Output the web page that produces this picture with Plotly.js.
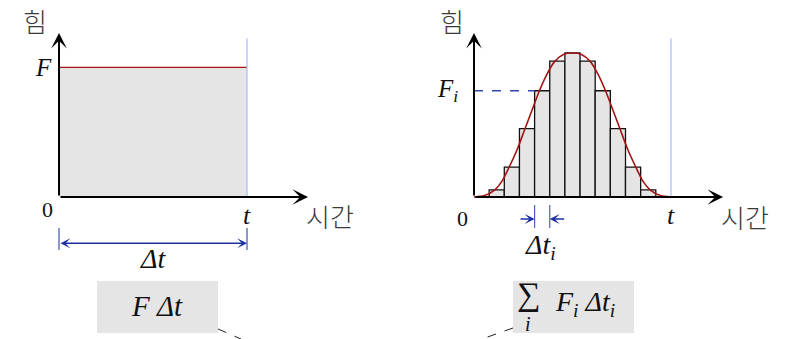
<!DOCTYPE html>
<html>
<head>
<meta charset="utf-8">
<script src="https://cdn.plot.ly/plotly-3.0.1.min.js"></script>
<style>html,body{margin:0;padding:0;background:#fff;}#chart{width:785px;height:339px;}</style>
</head>
<body>
<div id="chart"></div>
<script>
// ---------- data ----------
// Left panel: constant force F over time interval [0, t]
const LEFT_T = 13;
const LEFT_F = 9;
const LEFT_X = [0, LEFT_T];
const LEFT_Y = [LEFT_F, LEFT_F];

// Right panel: variable force approximated by bars of width Δt_i
const BAR_X = [1.5, 2.5, 3.5, 4.5, 5.5, 6.5, 7.5, 8.5, 9.5, 10.5, 11.5];
const BAR_F = [0.5, 2.08, 4.75, 7.38, 9.44, 10, 9.44, 7.38, 4.75, 2.08, 0.5];
const BAR_WIDTH = 1;
const RIGHT_T = 13;
const FI_INDEX = 3;           // the highlighted bar F_i
const CURVE_X = [0, 0.7, 1.38, 1.85, 2.32, 2.85, 3.36, 3.8, 4.3, 4.8, 5.33, 5.9, 6.5,
                 7.1, 7.67, 8.2, 8.7, 9.2, 9.64, 10.15, 10.68, 11.15, 11.62, 12.3, 13];
const CURVE_Y = [0, 0.1, 0.5, 1.1, 2.08, 3.3, 4.72, 5.95, 7.33, 8.5, 9.42, 9.9, 10,
                 9.9, 9.42, 8.5, 7.33, 5.95, 4.72, 3.3, 2.08, 1.1, 0.5, 0.1, 0];

// Labels
const Y_LABEL = '힘';
const X_LABEL = '시간';

// ---------- styling ----------
const W = 785, H = 339;
const px = v => v / W;
const py = v => 1 - v / H;
const RED = '#a31515';
const LIGHTBLUE = '#a9b8f5';
const DARKBLUE = '#1f2f9e';
const GREY = '#e5e5e5';
const SERIF = 'Liberation Serif, DejaVu Serif, serif';
const KR = 'Noto Sans CJK KR, sans-serif';
const Y_TOP = 11.39, Y_LINE_TOP = 11;
const LEFT_XEND = 17.22, RIGHT_XEND = 16.44;

const hidden = {visible: false, showgrid: false, zeroline: false, fixedrange: true};
const yr = [-142 / 14.4, 197 / 14.4];

const traces = [
  {x: LEFT_X, y: LEFT_Y, xaxis: 'x', yaxis: 'y', type: 'scatter', mode: 'lines',
   fill: 'tozeroy', fillcolor: GREY, line: {color: RED, width: 1.4}, hoverinfo: 'skip'},
  {x: BAR_X, y: BAR_F, width: BAR_X.map(() => BAR_WIDTH), xaxis: 'x2', yaxis: 'y2', type: 'bar',
   marker: {color: GREY, line: {color: '#111', width: 1.3}}, hoverinfo: 'skip'},
  {x: CURVE_X, y: CURVE_Y, xaxis: 'x2', yaxis: 'y2', type: 'scatter', mode: 'lines',
   line: {color: RED, width: 1.6, shape: 'spline', smoothing: 0.8}, hoverinfo: 'skip'}
];

const FI = BAR_F[FI_INDEX];
const fiLeft = BAR_X[FI_INDEX] - BAR_WIDTH / 2;
const fiRight = BAR_X[FI_INDEX] + BAR_WIDTH / 2;

const shapes = [
  // light blue verticals at t
  {type: 'line', xref: 'x', yref: 'y', x0: LEFT_T, x1: LEFT_T, y0: 0, y1: Y_LINE_TOP, line: {color: LIGHTBLUE, width: 1.2}},
  {type: 'line', xref: 'x2', yref: 'y2', x0: RIGHT_T, x1: RIGHT_T, y0: 0, y1: Y_LINE_TOP, line: {color: LIGHTBLUE, width: 1.2}},
  // Δt ticks (left)
  {type: 'line', xref: 'x', yref: 'y', x0: 0, x1: 0, y0: -2.15, y1: -3.68, line: {color: DARKBLUE, width: 1}},
  {type: 'line', xref: 'x', yref: 'y', x0: LEFT_T, x1: LEFT_T, y0: -2.15, y1: -3.68, line: {color: DARKBLUE, width: 1}},
  // Δt_i ticks (right)
  {type: 'line', xref: 'x2', yref: 'y2', x0: fiLeft, x1: fiLeft, y0: -0.56, y1: -2.15, line: {color: '#5060c0', width: 1.2}},
  {type: 'line', xref: 'x2', yref: 'y2', x0: fiRight, x1: fiRight, y0: -0.56, y1: -2.15, line: {color: '#5060c0', width: 1.2}},
  // F_i dashed line
  {type: 'line', xref: 'x2', yref: 'y2', x0: 0, x1: fiLeft, y0: FI, y1: FI, line: {color: '#3048b0', width: 1.3, dash: 'dash'}},
  // callout boxes
  {type: 'rect', xref: 'paper', yref: 'paper', x0: px(97), x1: px(218), y0: py(281), y1: py(333), fillcolor: GREY, line: {width: 0}, layer: 'below'},
  {type: 'rect', xref: 'paper', yref: 'paper', x0: px(513), x1: px(634), y0: py(281), y1: py(333), fillcolor: GREY, line: {width: 0}, layer: 'below'},
  // callout dashed leaders
  {type: 'line', xref: 'paper', yref: 'paper', x0: px(218), x1: px(241), y0: py(329), y1: py(339), line: {color: '#222', width: 1, dash: 'dash'}},
  {type: 'line', xref: 'paper', yref: 'paper', x0: px(513), x1: px(482), y0: py(328), y1: py(339), line: {color: '#222', width: 1, dash: 'dash'}}
];

function arrow(xr, yr2, x0, y0, x1, y1, color, w, size, side) {
  return {xref: xr, yref: yr2, axref: xr, ayref: yr2, x: x1, y: y1, ax: x0, ay: y0, text: '',
          showarrow: true, arrowhead: 3, startarrowhead: 3, arrowsize: size, startarrowsize: size,
          arrowwidth: w, arrowcolor: color, arrowside: side || 'end', standoff: 0, startstandoff: 0};
}
function label(xr, yr2, x, y, text, size, font, color, weight) {
  return {xref: xr, yref: yr2, x: x, y: y, text: text, showarrow: false,
          font: {family: font || SERIF, size: size, color: color || '#111', weight: weight || 400},
          xanchor: 'center', yanchor: 'middle'};
}

const annotations = [
  // axes
  arrow('x', 'y', 0, 0, 0, Y_TOP, '#000', 2, 1.3),
  arrow('x', 'y', 0, 0, LEFT_XEND, 0, '#000', 2, 1.3),
  arrow('x2', 'y2', 0, 0, 0, Y_TOP, '#000', 2, 1.3),
  arrow('x2', 'y2', 0, 0, RIGHT_XEND, 0, '#000', 2, 1.3),
  // Δt double arrow
  arrow('x', 'y', 0, -3.215, LEFT_T, -3.215, DARKBLUE, 1.5, 1.1, 'end+start'),
  // Δt_i arrows
  arrow('x2', 'y2', fiLeft - 1.03, -1.53, fiLeft, -1.53, DARKBLUE, 1.5, 1.1),
  arrow('x2', 'y2', fiRight + 1.05, -1.53, fiRight, -1.53, DARKBLUE, 1.5, 1.1),
  // left labels
  label('x', 'y', -1.66, 12.29, Y_LABEL, 26, KR, '#3a3a3a', 300),
  label('x', 'y', -1.1, LEFT_F, '<i>F</i>', 25),
  label('x', 'y', -0.83, -0.9, '0', 22),
  label('x', 'y', LEFT_T, -1.25, '<i>t</i>', 26),
  label('x', 'y', 18.74, -1.25, X_LABEL, 26, KR, '#3a3a3a', 300),
  label('x', 'y', LEFT_T / 2, -4.24, '<i>Δt</i>', 28),
  // right labels
  label('x2', 'y2', -1.45, 12.29, Y_LABEL, 26, KR, '#3a3a3a', 300),
  label('x2', 'y2', -1.78, FI, '<i>F</i><sub><i>i</i></sub>', 25),
  label('x2', 'y2', -0.79, -1.46, '0', 22),
  label('x2', 'y2', RIGHT_T, -1.3, '<i>t</i>', 26),
  label('x2', 'y2', 17.92, -1.32, X_LABEL, 26, KR, '#3a3a3a', 300),
  label('x2', 'y2', (fiLeft + fiRight) / 2 - 0.1, -3.47, '<i>Δt</i><sub><i>i</i></sub>', 28),
  // callout texts
  label('paper', 'paper', px(157), py(306), '<i>F&nbsp;Δt</i>', 29),
  label('paper', 'paper', px(528.5), py(294), '∑', 33),
  label('paper', 'paper', px(528), py(324), '<i>i</i>', 20),
  label('paper', 'paper', px(585), py(303), '<i>F</i><sub><i>i</i></sub>&nbsp;<i>Δt</i><sub><i>i</i></sub>', 28)
];

const layout = {
  width: W, height: H,
  margin: {l: 0, r: 0, t: 0, b: 0},
  paper_bgcolor: '#fff', plot_bgcolor: 'rgba(0,0,0,0)',
  showlegend: false,
  xaxis: Object.assign({domain: [0, 392 / W], range: [-59 / 14.4615, 333 / 14.4615], anchor: 'y'}, hidden),
  yaxis: Object.assign({domain: [0, 1], range: yr, anchor: 'x'}, hidden),
  xaxis2: Object.assign({domain: [393 / W, 1], range: [-81 / 15.15, 311 / 15.15], anchor: 'y2'}, hidden),
  yaxis2: Object.assign({domain: [0, 1], range: yr, anchor: 'x2'}, hidden),
  shapes: shapes,
  annotations: annotations,
  bargap: 0
};

Plotly.newPlot('chart', traces, layout, {staticPlot: true, displayModeBar: false});
</script>
</body>
</html>
